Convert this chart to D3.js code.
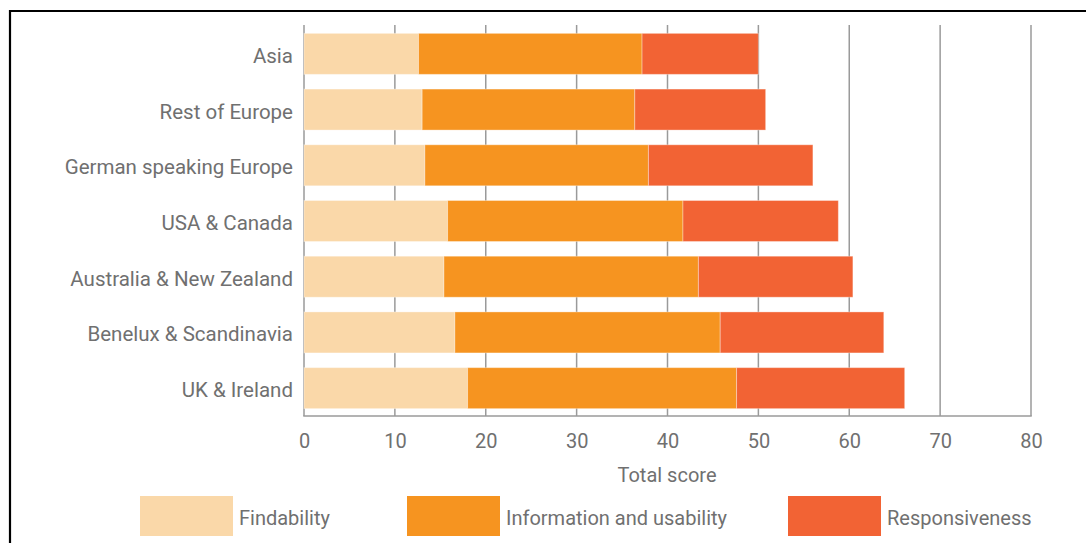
<!DOCTYPE html>
<html>
<head>
<meta charset="utf-8">
<script src="https://cdn.jsdelivr.net/npm/d3@7/dist/d3.min.js"></script>
<style>
  html, body { margin: 0; padding: 0; background: #fff; }
  svg { display: block; }
  text { font-family: Roboto, "Open Sans", sans-serif; fill: #707070; }
</style>
</head>
<body>
<svg id="chart" width="1086" height="543"></svg>
<script>
// ---- data ----
const regions = ["Asia", "Rest of Europe", "German speaking Europe", "USA & Canada",
                 "Australia & New Zealand", "Benelux & Scandinavia", "UK & Ireland"];
const seriesNames = ["Findability", "Information and usability", "Responsiveness"];
const findability = [12.6, 13.0, 13.3, 15.8, 15.4, 16.6, 18.0];
const infoUsability = [24.6, 23.4, 24.6, 25.9, 28.0, 29.2, 29.6];
const responsiveness = [12.8, 14.4, 18.1, 17.1, 17.0, 18.0, 18.5];
const xTicks = [0, 10, 20, 30, 40, 50, 60, 70, 80];
const xLabel = "Total score";
const colors = ["#fad8a9", "#f69420", "#f26334"];

// ---- build ----
const svg = d3.select("#chart");
const table = regions.map((r, i) => ({
  region: r,
  "Findability": findability[i],
  "Information and usability": infoUsability[i],
  "Responsiveness": responsiveness[i]
}));
const stacked = d3.stack().keys(seriesNames)(table);

const x = d3.scaleLinear().domain([0, 80]).range([304, 1031]);
const y = d3.scaleBand().domain(regions).range([26, 416]).paddingInner(0.264).paddingOuter(0.132);
const color = d3.scaleOrdinal().domain(seriesNames).range(colors);

// frame
svg.append("path")
  .attr("d", "M10,545 L10,11 L1090,11")
  .attr("fill", "none").attr("stroke", "#000").attr("stroke-width", 2.2);

// gridlines
svg.append("g").selectAll("line").data(xTicks).join("line")
  .attr("x1", d => x(d)).attr("x2", d => x(d))
  .attr("y1", 25).attr("y2", 416)
  .attr("stroke", "#9a9a9a").attr("stroke-width", 1.5);

// baseline
svg.append("line")
  .attr("x1", x(0) - 0.75).attr("x2", x(80) + 0.75)
  .attr("y1", 416).attr("y2", 416)
  .attr("stroke", "#9a9a9a").attr("stroke-width", 1.5);

// bars
svg.append("g").selectAll("g").data(stacked).join("g")
  .attr("fill", d => color(d.key))
  .selectAll("rect").data(d => d).join("rect")
  .attr("x", d => x(d[0]))
  .attr("width", d => x(d[1]) - x(d[0]))
  .attr("y", d => y(d.data.region))
  .attr("height", y.bandwidth())
  .attr("stroke", "rgba(255,255,255,0.35)").attr("stroke-width", 1);

// category labels
svg.append("g").selectAll("text").data(regions).join("text")
  .attr("x", 293)
  .attr("y", d => y(d) + y.bandwidth() / 2 + 2)
  .attr("text-anchor", "end")
  .attr("dominant-baseline", "central")
  .style("font-size", "20.5px")
  .text(d => d);

// x axis tick labels
const xAxis = d3.axisBottom(x).tickValues(xTicks).tickSize(0).tickPadding(0);
const gx = svg.append("g").attr("transform", "translate(0,434)").call(xAxis);
gx.select(".domain").remove();
gx.selectAll("text")
  .attr("y", 0).attr("dy", "0.71em")
  .style("font-size", "20px")
  .style("font-family", "Roboto, sans-serif")
  .attr("fill", "#707070");

svg.append("text")
  .attr("x", 667).attr("y", 475)
  .attr("text-anchor", "middle")
  .attr("dominant-baseline", "central")
  .style("font-size", "20px")
  .text(xLabel);

// legend
const legendX = [140, 407, 788];
const lg = svg.append("g").selectAll("g").data(seriesNames).join("g")
  .attr("transform", (d, i) => `translate(${legendX[i]},496)`);
lg.append("rect").attr("width", 93).attr("height", 40).attr("fill", d => color(d));
lg.append("text")
  .attr("x", 99).attr("y", 22)
  .attr("dominant-baseline", "central")
  .style("font-size", "20px")
  .text(d => d);
</script>
</body>
</html>
